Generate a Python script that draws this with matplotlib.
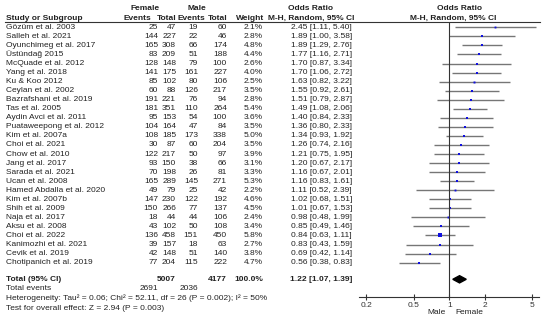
import matplotlib
matplotlib.use("Agg")
import matplotlib.pyplot as plt
from matplotlib.patches import Polygon

plt.rcParams['font.family'] = ['Liberation Sans', 'DejaVu Sans']

studies = ["Gözüm et al. 2003", "Salleh et al. 2021", "Oyunchimeg et al. 2017",
           "Üstündağ 2015", "McQuade et al. 2012", "Yang et al. 2018",
           "Ku & Koo 2012", "Ceylan et al. 2002", "Bazrafshani et al. 2019",
           "Tas et al. 2005", "Aydin Avci et al. 2011", "Puataweepong et al. 2012",
           "Kim et al. 2007a", "Choi et al. 2021", "Chow et al. 2010",
           "Jang et al. 2017", "Sarada et al. 2021", "Ucan et al. 2008",
           "Hamed Abdalla et al. 2020", "Kim et al. 2007b", "Shih et al. 2009",
           "Naja et al. 2017", "Aksu et al. 2008", "Choi et al. 2022",
           "Kanimozhi et al. 2021", "Cevik et al. 2019", "Chotipanich et al. 2019"]
fem_events = [25, 144, 165, 83, 128, 141, 85, 60, 191, 181, 95, 104, 108, 30,
              122, 93, 70, 165, 49, 147, 150, 18, 43, 136, 39, 42, 77]
fem_total = [47, 227, 308, 209, 148, 175, 102, 88, 221, 351, 153, 164, 185, 87,
             217, 150, 198, 289, 79, 230, 266, 44, 102, 458, 157, 148, 204]
male_events = [19, 22, 66, 51, 79, 161, 80, 126, 76, 110, 54, 47, 173, 60,
               50, 38, 26, 145, 25, 122, 77, 44, 50, 151, 18, 51, 115]
male_total = [60, 46, 174, 188, 100, 227, 106, 217, 94, 264, 100, 84, 338, 204,
              97, 66, 81, 271, 42, 192, 137, 106, 108, 450, 63, 140, 222]
weight = [2.1, 2.8, 4.8, 4.4, 2.6, 4.0, 2.5, 3.5, 2.8, 5.4, 3.6, 3.5, 5.0, 3.5,
          3.9, 3.1, 3.3, 5.3, 2.2, 4.6, 4.5, 2.4, 3.4, 5.8, 2.7, 3.8, 4.7]
odds = [2.45, 1.89, 1.89, 1.77, 1.70, 1.70, 1.63, 1.55, 1.51, 1.49, 1.40, 1.36,
        1.34, 1.26, 1.21, 1.20, 1.16, 1.16, 1.11, 1.02, 1.01, 0.98, 0.85, 0.84,
        0.83, 0.69, 0.56]
ci_lo = [1.11, 1.00, 1.29, 1.16, 0.87, 1.06, 0.82, 0.92, 0.79, 1.08, 0.84, 0.80,
         0.93, 0.74, 0.75, 0.67, 0.67, 0.83, 0.52, 0.68, 0.67, 0.48, 0.49, 0.63,
         0.43, 0.42, 0.38]
ci_hi = [5.40, 3.58, 2.76, 2.71, 3.34, 2.72, 3.22, 2.61, 2.87, 2.06, 2.33, 2.33,
         1.92, 2.16, 1.95, 2.17, 2.01, 1.61, 2.39, 1.51, 1.53, 1.99, 1.46, 1.11,
         1.59, 1.14, 0.83]
pooled = (1.22, 1.07, 1.39)
ticks = [0.2, 0.5, 1, 2, 5]

W, H = 550, 320
fig = plt.figure(figsize=(W / 100, H / 100), dpi=100)

def px(x, y):
    return x / W, 1 - y / H

fs = 6
row0, step = 27.3, 9.05

def txt(x, y, s, ha='left', bold=False):
    fx, fy = px(x, y)
    fig.text(fx, fy, s, ha=ha, va='center', fontsize=fs,
             fontweight='bold' if bold else 'normal', color='#222222')

# header
txt(145, 9, "Female", 'center', True)
txt(197, 9, "Male", 'center', True)
txt(310, 9, "Odds Ratio", 'center', True)
txt(460, 9, "Odds Ratio", 'center', True)
txt(6, 18, "Study or Subgroup", bold=True)
txt(151, 18, "Events", 'right', True)
txt(176, 18, "Total", 'right', True)
txt(205, 18, "Events", 'right', True)
txt(227, 18, "Total", 'right', True)
txt(264, 18, "Weight", 'right', True)
txt(311, 18, "M-H, Random, 95% CI", 'center', True)
txt(453, 18, "M-H, Random, 95% CI", 'center', True)
fig.add_artist(plt.Line2D([5 / W, 540 / W], [1 - 22 / H, 1 - 22 / H],
                          color='#333333', lw=0.8))

for i, name in enumerate(studies):
    y = row0 + step * i
    txt(6, y, name)
    txt(158, y, str(fem_events[i]), 'right')
    txt(176, y, str(fem_total[i]), 'right')
    txt(198, y, str(male_events[i]), 'right')
    txt(227, y, str(male_total[i]), 'right')
    txt(263, y, "%.1f%%" % weight[i], 'right')
    txt(352, y, "%.2f [%.2f, %.2f]" % (odds[i], ci_lo[i], ci_hi[i]), 'right')

yt = 279.3
txt(6, yt, "Total (95% CI)", bold=True)
txt(176, yt, str(sum(fem_total)), 'right', True)
txt(227, yt, str(sum(male_total)), 'right', True)
txt(263, yt, "100.0%", 'right', True)
txt(352, yt, "%.2f [%.2f, %.2f]" % pooled, 'right', True)
txt(6, 289, "Total events")
txt(158, 289, str(sum(fem_events)), 'right')
txt(198, 289, str(sum(male_events)), 'right')
txt(6, 298.5, "Heterogeneity: Tau\u00b2 = 0.06; Chi\u00b2 = 52.11, df = 26 (P = 0.002); I\u00b2 = 50%")
txt(6, 308, "Test for overall effect: Z = 2.94 (P = 0.003)")

# forest panel
ax_l, ax_r, ax_t, ax_b = 359, 539, 22, 297
ax = fig.add_axes([ax_l / W, 1 - ax_b / H, (ax_r - ax_l) / W, (ax_b - ax_t) / H])
ax.set_xscale('log')
ppd = 118.7
ax.set_xlim(10 ** ((ax_l - 449.3) / ppd), 10 ** ((ax_r - 449.3) / ppd))
ax.set_ylim((ax_b - row0) / step, (ax_t - row0) / step)
for i in range(len(studies)):
    ax.plot([ci_lo[i], ci_hi[i]], [i, i], color='#767676', lw=1.0,
            solid_capstyle='butt')
    ax.plot(odds[i], i, 's', color='#1010e0', ms=0.8 + 0.25 * weight[i], mew=0)
yd = (yt - row0) / step
ax.add_patch(Polygon([(pooled[1], yd), (pooled[0], yd - 0.4),
                      (pooled[2], yd), (pooled[0], yd + 0.4)],
                     closed=True, color='black'))
ax.axvline(1, color='#333333', lw=0.8)
for s in ['top', 'left', 'right']:
    ax.spines[s].set_visible(False)
ax.spines['bottom'].set_color('#333333')
ax.spines['bottom'].set_linewidth(0.8)
ax.set_yticks([])
ax.set_xticks(ticks)
ax.set_xticklabels([str(t) for t in ticks])
ax.minorticks_off()
ax.tick_params(axis='x', direction='inout', length=5, width=0.8,
               labelsize=fs, pad=1, colors='#333333')
txt(437, 313, "Male", 'center')
txt(469, 313, "Female", 'center')

fig.savefig("out.png", dpi=100)
